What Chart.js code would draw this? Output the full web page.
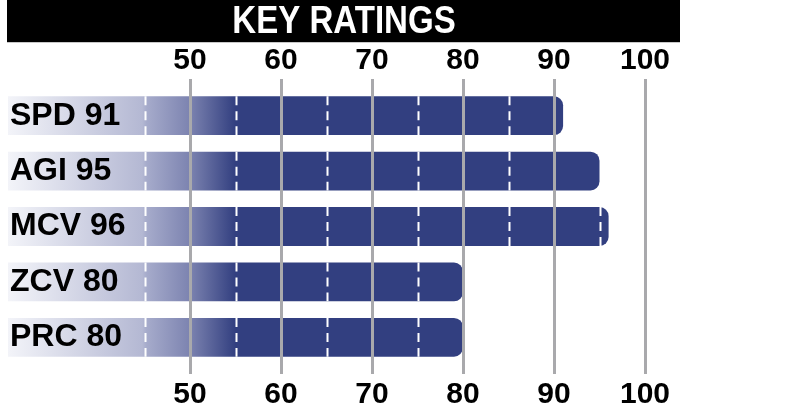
<!DOCTYPE html>
<html>
<head>
<meta charset="utf-8">
<script src="https://cdn.jsdelivr.net/npm/chart.js@4.4.1/dist/chart.umd.min.js"></script>
<style>
  html, body { margin: 0; padding: 0; background: #fff; }
  #wrap { width: 785px; height: 415px; }
</style>
</head>
<body>
<div id="wrap"><canvas id="ratingsChart" width="785" height="415"></canvas></div>
<script>
// Data
const categories = ['SPD', 'AGI', 'MCV', 'ZCV', 'PRC'];
const ratings = [91, 95, 96, 80, 80];
const tickValues = [50, 60, 70, 80, 90, 100];
const dashValues = [45, 55, 65, 75, 85, 95];
const axisMin = 30;
const axisMax = 100;
const titleText = 'KEY RATINGS';

const navy = '#323f80';
const gridGray = '#a9a9ac';

// gradient along the value axis, from pale at the start to full navy at 55
function barFill(context) {
    const chart = context.chart;
    const xScale = chart.scales.x;
    if (!chart.chartArea || !xScale) return navy;
    const x0 = xScale.getPixelForValue(axisMin);
    const x1 = xScale.getPixelForValue(55);
    const g = chart.ctx.createLinearGradient(x0, 0, x1, 0);
    g.addColorStop(0, '#f3f4f9');
    g.addColorStop(0.59, '#b4b8d3');
    g.addColorStop(0.61, '#a6abcb');
    g.addColorStop(0.8, '#7c83b0');
    g.addColorStop(1, navy);
    return g;
}

// black header strip with the title (font squeezed to look condensed)
const headerPlugin = {
    id: 'header',
    beforeDraw(chart) {
        const ctx = chart.ctx;
        ctx.save();
        ctx.fillStyle = '#000';
        ctx.fillRect(7, 0, 673, 42);
        ctx.fillStyle = '#c8c8c8';
        ctx.fillRect(7, 42, 673, 1);
        ctx.fillStyle = '#fff';
        ctx.font = 'bold 38px "Liberation Sans", Arial, sans-serif';
        ctx.textAlign = 'center';
        ctx.textBaseline = 'middle';
        ctx.translate(344, 23);
        ctx.scale(0.87, 1);
        ctx.fillText(titleText, 0, 0);
        ctx.restore();
    }
};

// white dashed marks inside each bar at the half-way values
const dashPlugin = {
    id: 'barDashes',
    afterDatasetsDraw(chart) {
        const ctx = chart.ctx;
        const xScale = chart.scales.x;
        const meta = chart.getDatasetMeta(0);
        ctx.save();
        ctx.strokeStyle = '#fff';
        ctx.lineWidth = 2;
        ctx.setLineDash([9, 6]);
        meta.data.forEach((bar, i) => {
            const top = bar.y - bar.height / 2;
            const bottom = bar.y + bar.height / 2;
            dashValues.forEach(v => {
                if (v >= ratings[i]) return;
                const px = Math.round(xScale.getPixelForValue(v)) + 0.5;
                ctx.beginPath();
                ctx.moveTo(px, top);
                ctx.lineTo(px, bottom);
                ctx.stroke();
            });
        });
        ctx.restore();
    }
};

const tickFont = { family: '"Liberation Sans", Arial, sans-serif', size: 30, weight: 'bold', lineHeight: 1 };

const ctx = document.getElementById('ratingsChart').getContext('2d');
const chart = new Chart(ctx, {
    type: 'bar',
    data: {
        labels: categories.map((c, i) => c + ' ' + ratings[i]),
        datasets: [{
            data: ratings,
            base: axisMin,
            backgroundColor: barFill,
            borderRadius: 9,
            borderSkipped: 'start',
            categoryPercentage: 1,
            barPercentage: 0.7
        }]
    },
    options: {
        indexAxis: 'y',
        responsive: false,
        animation: false,
        devicePixelRatio: 1,
        layout: { padding: { left: 8, right: 140, top: 43, bottom: -1 } },
        plugins: {
            legend: { display: false },
            title: { display: false },
            tooltip: { enabled: false }
        },
        scales: {
            x: {
                position: 'bottom',
                min: axisMin,
                max: axisMax,
                afterBuildTicks: s => { s.ticks = tickValues.map(v => ({ value: v })); },
                grid: { color: gridGray, lineWidth: 3, z: 1, drawTicks: true, tickLength: 9 },
                border: { display: false },
                ticks: { color: '#000', font: tickFont, padding: 6, maxRotation: 0 }
            },
            x2: {
                position: 'top',
                axis: 'x',
                min: axisMin,
                max: axisMax,
                afterBuildTicks: s => { s.ticks = tickValues.map(v => ({ value: v })); },
                grid: { color: gridGray, lineWidth: 3, z: 1, drawTicks: true, tickLength: 9, drawOnChartArea: false },
                border: { display: false },
                ticks: { color: '#000', font: tickFont, padding: 3, maxRotation: 0 }
            },
            y: {
                position: 'left',
                afterFit: s => { s.width = 0; },
                grid: { display: false, drawTicks: false },
                border: { display: false },
                ticks: {
                    mirror: true,
                    z: 1,
                    padding: 2,
                    color: '#000',
                    font: { family: '"Liberation Sans", Arial, sans-serif', size: 32, weight: 'bold' }
                }
            }
        }
    },
    plugins: [headerPlugin, dashPlugin]
});
</script>
</body>
</html>
